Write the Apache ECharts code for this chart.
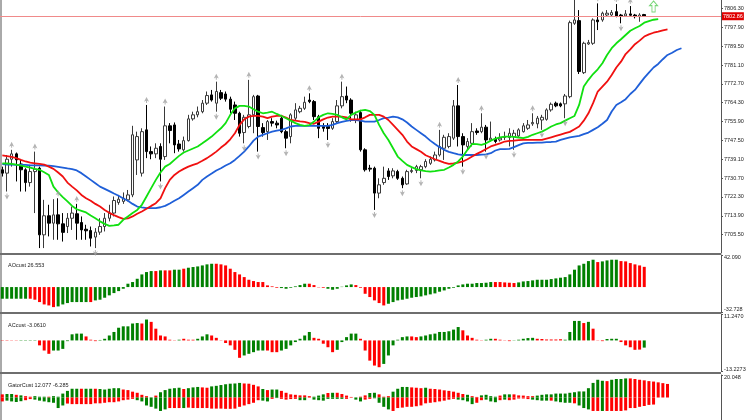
<!DOCTYPE html>
<html>
<head>
<meta charset="utf-8">
<script src="https://cdn.jsdelivr.net/npm/echarts@6/dist/echarts.min.js"></script>
<style>
html, body { margin: 0; padding: 0; background: #fff; }
#DataChart { width: 752px; height: 420px; }
</style>
</head>
<body>
<div id="DataChart"></div>
<script>
// candles (bar 0 = leftmost visible bar)
var opens = [7734.4,7732.9,7739.1,7741.5,7737.0,7734.4,7728.7,7733.6,7735.1,7705.4,
  7713.9,7710.6,7714.3,7710.3,7709.1,7712.8,7714.8,7710.9,7707.9,7707.3,
  7704.4,7706.6,7709.1,7712.8,7715.1,7719.8,7720.3,7721.0,7723.2,7738.8,
  7732.9,7752.2,7742.5,7741.5,7744.8,7740.3,7754.0,7754.4,7745.9,7743.3,
  7747.4,7757.1,7758.9,7760.3,7764.1,7767.8,7764.1,7768.8,7768.2,7765.9,
  7763.3,7759.6,7751.0,7753.7,7758.9,7767.3,7753.2,7751.4,7755.9,7755.2,
  7757.4,7751.4,7749.2,7757.4,7760.3,7761.8,7765.5,7764.8,7758.1,7753.7,
  7753.7,7752.9,7755.9,7762.9,7767.3,7765.5,7756.6,7759.9,7743.3,7735.1,
  7735.1,7724.0,7728.7,7733.9,7731.7,7733.6,7730.6,7728.1,7733.6,7734.1,
  7734.4,7735.8,7737.3,7738.8,7741.0,7744.0,7744.8,7748.5,7762.9,7749.2,
  7744.8,7746.2,7751.7,7751.4,7753.4,7747.7,7748.0,7747.7,7748.8,7748.8,
  7749.2,7749.5,7751.4,7752.9,7754.9,7754.9,7756.6,7756.9,7761.1,7764.1,
  7763.8,7763.8,7767.0,7799.7,7800.9,7777.7,7790.5,7790.8,7801.2,7801.2,
  7803.4,7803.4,7804.9,7803.4,7803.0,7803.9,7803.4,7802.7,7803.6];
var closes = [7732.9,7739.1,7741.5,7738.8,7734.4,7728.7,7733.6,7734.7,7705.4,7713.9,
  7710.6,7714.3,7710.3,7706.5,7712.8,7715.1,7710.6,7707.6,7707.2,7703.9,
  7706.6,7709.1,7712.8,7715.1,7720.7,7721.3,7721.7,7723.2,7750.0,7749.2,
  7751.4,7742.5,7741.5,7744.0,7739.1,7754.0,7751.9,7745.5,7743.7,7747.4,
  7757.1,7758.9,7760.3,7764.1,7767.5,7765.5,7769.3,7766.3,7765.9,7761.4,
  7759.6,7750.7,7757.8,7758.9,7767.0,7753.7,7751.0,7755.9,7755.2,7754.4,
  7751.4,7748.5,7758.9,7761.1,7761.8,7764.5,7764.8,7758.1,7752.9,7752.9,
  7752.8,7755.9,7762.9,7767.0,7765.5,7759.6,7758.9,7743.3,7734.4,7734.7,
  7724.0,7727.7,7730.6,7731.4,7733.9,7730.6,7727.7,7733.6,7734.1,7735.8,
  7735.8,7738.1,7739.1,7741.0,7744.8,7748.9,7749.2,7762.9,7749.2,7745.5,
  7747.0,7751.4,7751.0,7753.4,7747.7,7748.5,7747.0,7748.5,7749.2,7750.7,
  7750.7,7752.2,7754.0,7754.4,7755.5,7757.4,7757.8,7761.1,7763.6,7762.9,
  7762.9,7767.3,7800.0,7801.2,7778.2,7790.8,7791.1,7801.2,7800.4,7804.2,
  7804.2,7804.5,7803.0,7803.0,7803.9,7803.3,7802.7,7803.4,7802.86];
var lows = [7731.4,7724.7,7735.8,7729.2,7724.7,7724.7,7726.9,7715.1,7699.5,7699.5,
  7704.7,7703.2,7703.2,7702.4,7706.2,7707.6,7703.2,7703.2,7703.2,7700.2,
  7699.5,7705.4,7706.9,7711.4,7713.6,7718.8,7719.2,7720.3,7722.2,7732.1,
  7731.4,7739.6,7739.1,7739.6,7729.2,7738.8,7746.2,7741.8,7742.5,7742.5,
  7747.0,7756.3,7757.8,7759.6,7763.3,7764.8,7760.3,7765.5,7764.8,7759.6,
  7756.6,7749.2,7746.2,7752.9,7750.7,7742.5,7749.2,7747.7,7753.7,7752.9,
  7750.7,7744.0,7746.2,7756.6,7759.6,7761.1,7764.1,7756.6,7748.5,7751.4,
  7747.7,7752.2,7755.2,7761.8,7764.1,7755.9,7755.2,7742.5,7733.6,7733.6,
  7716.5,7721.7,7727.7,7729.9,7730.6,7729.9,7726.2,7727.7,7732.9,7732.9,
  7730.6,7735.1,7736.6,7738.1,7740.3,7738.8,7744.0,7747.7,7744.8,7735.8,
  7743.3,7744.8,7750.0,7750.7,7742.5,7747.0,7746.2,7747.0,7747.7,7744.8,
  7743.3,7748.9,7751.0,7752.2,7754.0,7752.9,7752.2,7756.3,7760.3,7762.3,
  7762.3,7757.4,7766.3,7799.0,7777.1,7777.1,7790.1,7790.1,7796.7,7800.4,
  7803.0,7802.7,7802.4,7799.7,7802.7,7802.7,7801.9,7800.4,7802.7];
var highs = [7735.8,7741.0,7743.3,7742.1,7738.8,7735.1,7736.6,7742.5,7735.8,7721.0,
  7718.8,7721.3,7721.7,7715.1,7715.1,7718.0,7719.2,7713.6,7709.9,7709.1,
  7708.4,7712.8,7715.1,7718.8,7722.5,7723.2,7724.3,7725.4,7754.0,7751.4,
  7752.9,7763.3,7744.8,7746.2,7746.2,7762.6,7755.2,7755.5,7747.7,7749.2,
  7758.9,7760.3,7762.6,7765.5,7769.3,7770.0,7773.7,7770.0,7769.3,7767.0,
  7764.8,7760.3,7758.9,7774.5,7767.8,7767.8,7755.2,7756.6,7757.4,7756.3,
  7758.9,7752.2,7759.6,7764.1,7762.9,7767.0,7768.5,7765.5,7758.9,7755.2,
  7755.2,7757.4,7765.5,7773.7,7771.5,7766.3,7760.3,7761.1,7744.0,7736.6,
  7735.8,7730.6,7735.8,7735.1,7735.1,7734.4,7731.4,7734.4,7735.1,7736.6,
  7736.6,7739.1,7740.3,7742.5,7752.2,7750.0,7750.7,7765.5,7772.2,7750.7,
  7748.5,7755.2,7752.9,7759.6,7754.4,7755.9,7749.2,7750.7,7751.4,7752.9,
  7752.2,7752.9,7755.2,7756.6,7759.6,7758.4,7758.9,7761.8,7764.4,7764.8,
  7764.4,7768.2,7800.9,7810.1,7805.6,7791.5,7792.3,7801.9,7808.6,7804.9,
  7805.6,7805.6,7808.3,7803.9,7805.6,7807.4,7803.9,7804.2,7803.9];

// alligator lines (already shifted forward as drawn)
var jaw = [7736.9,7736.7,7736.7,7736.6,7736.6,7736.6,7736.4,7736.4,7736.4,7736.3,
  7736.3,7736.0,7735.7,7735.4,7735.0,7734.7,7734.1,7732.9,7731.4,7729.9,
  7728.4,7726.9,7725.9,7724.9,7723.8,7722.8,7721.6,7720.6,7719.2,7718.0,
  7717.6,7717.3,7717.3,7717.3,7717.7,7718.3,7719.4,7720.6,7721.7,7723.2,
  7724.7,7726.2,7727.7,7729.9,7731.4,7732.7,7734.1,7735.1,7736.3,7737.3,
  7738.8,7740.6,7742.5,7744.8,7747.4,7749.2,7750.0,7750.7,7751.4,7751.9,
  7752.2,7752.9,7753.7,7754.0,7754.0,7754.0,7754.0,7754.0,7754.0,7754.0,
  7754.0,7754.4,7755.2,7755.8,7756.2,7756.5,7756.5,7756.3,7755.9,7755.9,
  7755.9,7756.6,7757.4,7757.7,7758.1,7757.8,7756.9,7755.5,7753.7,7752.2,
  7750.7,7749.2,7747.4,7745.9,7744.5,7743.3,7742.4,7741.8,7741.3,7741.0,
  7741.0,7741.0,7741.0,7741.2,7741.3,7741.8,7743.0,7743.6,7743.6,7743.7,
  7744.5,7745.4,7746.2,7746.4,7746.4,7746.5,7746.5,7746.7,7746.8,7747.0,
  7747.7,7748.3,7748.9,7749.2,7749.5,7750.3,7751.0,7752.2,7753.4,7754.9,
  7756.6,7760.4,7763.3,7764.5,7765.9,7768.2,7770.0,7772.7,7775.4,7777.7,
  7780.0,7781.6,7783.7,7785.6,7786.6,7787.8,7788.6];
var teeth = [7740.8,7740.5,7740.2,7739.6,7738.8,7738.1,7737.6,7737.3,7737.0,7736.7,
  7735.8,7734.8,7733.2,7731.4,7728.7,7726.9,7725.2,7723.2,7721.7,7720.6,
  7719.2,7718.0,7716.5,7715.2,7714.2,7713.3,7712.5,7712.7,7713.6,7714.8,
  7715.8,7717.0,7718.3,7719.5,7721.7,7726.2,7729.9,7732.1,7733.6,7734.8,
  7735.8,7736.6,7737.3,7738.4,7739.6,7741.0,7742.5,7744.3,7745.9,7748.0,
  7750.7,7754.4,7756.9,7758.1,7758.4,7758.4,7758.1,7757.4,7758.1,7758.4,
  7758.4,7757.7,7756.6,7756.3,7756.0,7755.8,7755.2,7754.9,7755.9,7756.9,
  7757.7,7758.1,7758.1,7758.1,7757.8,7756.9,7756.9,7756.9,7757.8,7758.9,
  7758.9,7758.9,7758.1,7756.6,7754.4,7752.2,7750.0,7747.0,7744.8,7743.6,
  7742.4,7740.9,7740.0,7739.1,7738.4,7737.6,7737.0,7737.2,7737.6,7738.1,
  7739.1,7740.3,7741.5,7742.5,7743.7,7744.8,7745.5,7746.2,7747.0,7747.3,
  7747.4,7747.6,7747.7,7747.7,7747.7,7747.7,7747.7,7748.3,7748.9,7749.5,
  7750.1,7750.7,7751.3,7752.5,7753.7,7756.3,7759.6,7764.1,7769.3,7771.5,
  7773.7,7776.7,7780.0,7782.6,7786.0,7788.1,7790.4,7792.0,7793.8,7794.8,
  7795.5,7796.0,7796.6,7797.0];
var lips = [7737.3,7737.2,7737.0,7736.7,7736.3,7735.8,7735.4,7734.8,7734.4,7733.3,
  7732.1,7726.9,7724.3,7722.2,7720.3,7718.3,7716.8,7716.1,7715.4,7714.0,
  7712.8,7711.4,7710.3,7709.4,7709.6,7709.9,7712.1,7713.6,7715.1,7716.5,
  7718.8,7722.5,7726.2,7729.9,7733.2,7735.8,7737.0,7738.8,7740.6,7742.1,
  7743.0,7743.9,7744.8,7746.2,7747.7,7749.2,7751.1,7752.9,7755.2,7758.9,
  7761.8,7762.9,7762.9,7762.6,7761.4,7760.3,7759.6,7759.9,7760.3,7759.3,
  7758.4,7757.4,7756.3,7755.2,7754.4,7754.0,7754.3,7755.9,7757.8,7758.9,
  7759.6,7759.3,7758.9,7757.8,7756.9,7758.9,7759.9,7760.8,7761.1,7760.6,
  7758.9,7754.4,7750.7,7747.7,7744.0,7740.3,7738.4,7736.6,7735.6,7734.7,
  7734.1,7733.8,7733.6,7733.8,7734.1,7734.4,7735.4,7736.6,7738.1,7740.3,
  7743.3,7745.9,7745.8,7745.5,7746.2,7747.4,7748.3,7748.9,7749.2,7749.2,
  7749.1,7748.8,7748.5,7749.1,7750.0,7750.7,7751.4,7752.5,7753.7,7754.6,
  7755.2,7756.3,7757.4,7758.4,7763.3,7771.5,7774.5,7777.1,7779.2,7781.9,
  7785.6,7788.6,7790.8,7792.6,7794.5,7796.4,7797.5,7798.5,7800.0,7800.7,
  7801.3,7801.6];

// fractal marks (bar numbers) and the signal arrow
var upFractals = [2, 7, 12, 16, 31, 35, 46, 53, 66, 73, 94, 98, 103, 114, 128, 132, 135];
var downFractals = [1, 20, 34, 46, 52, 55, 61, 70, 80, 86, 90, 99, 104, 110, 116, 121, 133];
var signalBar = 140;
var signalPrice = 7807.2;

var priceTicks = [7705.5, 7713.9, 7722.3, 7730.7, 7739.1, 7747.5, 7755.9, 7764.3, 7772.7, 7781.1, 7789.5, 7797.9, 7806.3];

// AOcust
var aoValues = [-15.3,-15.3,-15.3,-15.3,-15.3,-15.3,-15.3,-16.6,-19.7,-22.8,
  -24.1,-26.3,-25.4,-22.8,-21.0,-19.7,-19.7,-19.7,-19.7,-19.7,
  -17.5,-16.6,-14.0,-10.9,-7.9,-5.3,-2.2,4.4,6.6,10.9,
  16.6,19.7,21.0,21.0,21.9,21.9,21.9,22.8,22.8,24.1,
  25.4,26.3,27.1,28.4,29.8,30.6,30.6,29.8,28.4,24.1,
  19.7,16.6,13.1,9.6,7.9,6.6,6.6,2.2,0.9,-0.9,
  -1.3,-2.2,-0.9,0.9,2.6,4.4,4.4,2.6,-0.4,-0.9,
  -2.2,-3.5,-2.2,0.4,2.2,3.5,2.6,-0.9,-8.8,-13.1,
  -17.5,-21.0,-24.1,-21.9,-19.7,-17.5,-16.6,-15.3,-14.0,-13.1,
  -12.3,-10.9,-9.6,-8.3,-6.1,-4.4,-2.2,-0.9,2.2,3.5,
  4.4,4.4,5.3,5.3,5.7,6.6,6.6,6.6,6.1,5.7,
  5.3,6.1,7.4,7.9,8.8,9.6,9.6,9.6,10.5,11.4,
  12.3,13.1,16.6,22.8,28.4,30.6,34.1,35.9,32.8,33.7,
  35.0,35.9,35.9,34.1,33.7,31.5,29.8,28.4,26.553];
var aoDir = 'gggggg rrrrrr ggggggg r ggggggggggggg r g rr gg r gggggg rrrrrrrrrrrrrr gggggg rrrr gggggg rrrrrrr ggggggggggggggggggggggg rrrrr ggggggggggggggggg r gggg rrrrrr';

// ACcust
var acValues = [-0.14,-0.14,-0.1,-0.1,0.14,0.14,0.14,0.14,-2.1,-4.3,
  -5.7,-4.3,-4.3,-3.6,-0.3,2.6,2.9,2.9,1.7,0.3,
  -0.3,0.2,0.7,2.1,3.6,5.4,6.0,6.0,7.2,7.4,
  7.2,8.9,7.9,5.0,2.1,1.7,0.3,0.1,0.3,0.7,
  0.3,0.3,0.7,1.7,2.6,2.1,1.1,-0.1,-1.1,-2.1,
  -4.0,-7.4,-6.4,-5.7,-5.0,-4.3,-4.3,-4.3,-5.0,-5.0,
  -4.3,-3.6,-2.1,-0.7,0.7,2.1,3.6,1.1,0.7,-1.4,
  -2.9,-5.0,-4.0,-0.7,1.4,2.9,2.9,0.7,-4.3,-8.6,
  -10.7,-11.4,-10.0,-6.4,-2.1,0.3,1.4,1.7,1.7,1.4,
  1.7,2.1,2.6,2.9,3.6,3.6,3.9,4.6,5.7,4.3,
  2.1,1.1,0.3,-0.1,0.3,0.7,0.7,0.3,-0.1,-0.3,
  0.1,0.3,0.7,1.0,1.1,0.7,0.6,0.4,0.4,0.4,
  0.5,0.3,3.6,8.3,8.3,7.4,7.9,5.0,-0.1,-0.3,
  0.6,0.7,0.7,-0.7,-2.1,-2.9,-4.0,-3.9,-3.061];
var acDir = 'rrrr gggg rrr ggggggg rrr ggggggggg r g rrrrrr g rrr ggg rrrrrrr ggggg rrr ggggggg rrrrr ggggg rrrrr gggggg rr ggggggggg rrrrr gg rrrr ggggg rrrrrr gggg r g rrr ggg rrrrr g';

// GatorCust, upper and lower histograms
var gatorUp = [2.8,3.1,3.1,2.4,1.9,1.2,0.7,1.2,0.7,0.7,
  0.7,1.2,0.7,3.5,5.9,7.8,7.8,7.8,7.8,7.8,
  7.8,7.6,7.1,7.8,8.3,8.3,7.1,6.6,5.2,4.2,
  2.4,1.2,0.1,1.7,4.7,6.6,7.8,8.3,8.7,7.6,
  8.3,9.0,9.4,9.0,8.7,9.9,10.4,11.1,11.8,12.3,
  12.5,13.0,12.5,12.3,11.3,9.9,7.6,6.6,7.1,7.1,
  5.9,4.2,2.8,2.4,1.9,1.9,1.2,0.7,1.7,2.8,
  4.0,4.2,4.2,3.1,1.7,0.5,0.1,0.7,1.9,4.0,
  4.2,2.8,0.7,1.2,5.2,7.8,9.4,9.4,9.0,8.7,
  8.3,8.7,7.8,7.6,7.1,6.4,5.9,5.2,4.2,3.1,
  2.4,1.2,0.5,1.9,2.4,1.2,0.7,1.7,2.8,2.8,
  2.8,1.9,1.7,1.2,1.2,1.7,2.4,2.8,2.8,3.5,
  3.5,3.5,4.2,4.7,5.4,5.4,8.3,13.0,15.8,14.9,
  14.6,15.8,16.5,16.5,17.0,17.0,16.5,15.8,15.3,14.6,
  14.2,13.5,12.8,12.077];
var gatorUpDir = 'r gg r g rr ggg r gggggg r gg r ggggg rrrrrr g r ggggg r ggg rr ggggggg rrrr g r gg rrrrrrr ggg r g rrrr g rr gg rrr gggg rrr g rrrrrrrr g rr gggg r gg rrrrr ggggggggggggggg r gggg rrrrrrrrr';
var gatorDown = [-3.5,-2.8,-3.5,-4.0,-3.3,-2.4,-1.4,-1.9,-2.8,-3.5,
  -4.2,-4.7,-9.4,-7.1,-5.4,-5.9,-5.9,-5.9,-5.9,-5.9,
  -5.2,-5.2,-4.7,-4.2,-4.2,-3.5,-2.4,-1.9,-1.2,-2.4,
  -3.5,-7.1,-8.3,-9.9,-12.0,-10.6,-9.4,-9.4,-9.4,-9.4,
  -9.0,-9.4,-9.4,-9.4,-9.4,-9.9,-9.9,-9.9,-10.1,-10.1,
  -9.9,-8.3,-7.1,-5.9,-4.7,-2.4,-2.8,-3.5,-1.2,-0.5,
  -1.2,-1.9,-1.4,-1.2,-2.4,-2.4,-0.1,-1.9,-2.4,-2.8,
  -1.2,-1.2,-1.2,-1.2,-1.2,-0.1,-1.9,-3.5,-1.9,-1.2,
  -0.7,-4.7,-8.3,-10.6,-12.0,-9.4,-9.0,-8.3,-8.3,-7.8,
  -7.1,-5.2,-4.7,-4.2,-3.5,-2.8,-1.9,-1.2,-1.9,-2.4,
  -3.5,-5.9,-4.7,-2.4,-1.9,-3.5,-4.2,-2.4,-1.9,-2.4,
  -1.9,-0.9,-0.9,-1.4,-1.9,-2.4,-2.8,-2.8,-2.8,-3.5,
  -4.2,-4.7,-4.7,-5.2,-7.1,-9.4,-10.6,-12.0,-12.0,-12.0,
  -12.0,-12.0,-12.0,-12.0,-11.5,-9.4,-9.4,-8.3,-7.6,-6.6,-6.285];
var gatorDownDir = 'r gggg rr ggggggg rrrrrrrrrrrrrrr ggggggg rrr g rrrrrrrrrrrrrrrr gg r g rrrr gg r ggggggg rr gg rr gggg rrrrrrrrrrrrrr gggg rr ggg r g rrrrr gggg r gggg r ggg rr g rrrrrrrrrrr';

var slotCount = 155;

// ---------------------------------------------------------------
var myChart = echarts.init(document.getElementById('DataChart'));

var font = 'Liberation Sans, Arial, sans-serif';
var slots = [];
for (var i = 0; i < slotCount; i++) slots.push(i);

var candles = opens.map(function (o, i) { return [o, closes[i], lows[i], highs[i]]; });
var lastPrice = closes[closes.length - 1];

function dirColor(dir) {
    dir = dir.replace(/ /g, '');
    return function (p) { return dir.charAt(p.dataIndex) === 'g' ? '#008000' : '#ff0000'; };
}

// labels of the small panes sit just inside their top / bottom edge
function edgeLabels(digits) {
    return {
        fontSize: 5.5, fontFamily: font, color: '#222', margin: 3,
        formatter: function (v) { return (v > 0 ? '{t|' : '{b|') + v.toFixed(digits) + '}'; },
        rich: {
            t: { padding: [4, 0, 0, 0], fontSize: 5.5, fontFamily: font, color: '#222' },
            b: { padding: [0, 0, 5, 0], fontSize: 5.5, fontFamily: font, color: '#222' }
        }
    };
}

function paneAxis(idx, min, max, digits, shown) {
    var lab = edgeLabels(digits);
    lab.customValues = shown;
    return {
        type: 'value', gridIndex: idx, position: 'right', min: min, max: max,
        splitLine: { show: false },
        axisLine: { show: true, lineStyle: { color: '#555', width: 1 } },
        axisTick: { show: true, customValues: shown, length: 2, lineStyle: { color: '#555' } },
        axisLabel: lab
    };
}

var arrowUp = 'path://M5,0 L10,8 L6,6.5 L6,10 L4,10 L4,6.5 L0,8 Z';
var bigArrow = 'path://M5,0 L10,5 L7,5 L7,12 L3,12 L3,5 L0,5 Z';

var option = {
    animation: false,
    backgroundColor: '#fff',
    title: [
        { text: 'AOcust 26.553', left: 3, top: 257, textStyle: { fontSize: 5.5, fontWeight: 'normal', fontFamily: font, color: '#222' } },
        { text: 'ACcust -3.0610', left: 3, top: 317, textStyle: { fontSize: 5.5, fontWeight: 'normal', fontFamily: font, color: '#222' } },
        { text: 'GatorCust 12.077 -6.285', left: 3, top: 377, textStyle: { fontSize: 5.5, fontWeight: 'normal', fontFamily: font, color: '#222' } }
    ],
    grid: [
        { left: 0, right: 31, top: 0, height: 253 },
        { left: 0, right: 31, top: 255, height: 57 },
        { left: 0, right: 31, top: 314, height: 57.5 },
        { left: 0, right: 31, top: 375, height: 56.6 }
    ],
    xAxis: [0, 1, 2, 3].map(function (k) {
        return { type: 'category', gridIndex: k, data: slots, show: false, boundaryGap: true };
    }),
    yAxis: [
        {
            type: 'value', gridIndex: 0, position: 'right', min: 7697.3, max: 7810.1,
            splitLine: { show: false },
            axisLine: { show: true, lineStyle: { color: '#555', width: 1 } },
            axisTick: { show: true, customValues: priceTicks, length: 2, lineStyle: { color: '#555' } },
            axisLabel: {
                customValues: priceTicks, fontSize: 5.5, fontFamily: font, color: '#222', margin: 3,
                formatter: function (v) { return v.toFixed(2); }
            }
        },
        paneAxis(1, -32.728, 42.09, 3, [42.09, -32.728]),
        paneAxis(2, -13.2273, 11.247, 4, [11.247, -13.2273]),
        paneAxis(3, -20.048, 20.048, 3, [20.048])
    ],
    graphic: [
        { type: 'line', shape: { x1: 1, y1: 0, x2: 1, y2: 420 }, style: { stroke: '#555', lineWidth: 1 } },
        { type: 'line', shape: { x1: 0, y1: 254, x2: 721, y2: 254 }, style: { stroke: '#6e6e6e', lineWidth: 2 } },
        { type: 'line', shape: { x1: 0, y1: 313, x2: 721, y2: 313 }, style: { stroke: '#6e6e6e', lineWidth: 2 } },
        { type: 'line', shape: { x1: 0, y1: 373, x2: 721, y2: 373 }, style: { stroke: '#6e6e6e', lineWidth: 2 } }
    ],
    series: [
        {
            name: 'price', type: 'candlestick', xAxisIndex: 0, yAxisIndex: 0,
            data: candles, barWidth: 3, z: 2,
            itemStyle: { color: '#fff', color0: '#000', borderColor: '#3a3a3a', borderColor0: '#000', borderWidth: 1 },
            markLine: {
                silent: true, symbol: 'none',
                data: [{ yAxis: lastPrice }],
                lineStyle: { color: '#f08a8a', width: 1, type: 'solid' },
                label: {
                    position: 'end', distance: 1, formatter: lastPrice.toFixed(2),
                    backgroundColor: '#e00000', color: '#fff', fontSize: 5.5, fontFamily: font, padding: [1, 1]
                }
            }
        },
        { name: 'jaw', type: 'line', xAxisIndex: 0, yAxisIndex: 0, data: jaw, symbol: 'none', z: 3,
          lineStyle: { color: '#1f5fd8', width: 1.8 } },
        { name: 'teeth', type: 'line', xAxisIndex: 0, yAxisIndex: 0, data: teeth, symbol: 'none', z: 3,
          lineStyle: { color: '#f01010', width: 1.8 } },
        { name: 'lips', type: 'line', xAxisIndex: 0, yAxisIndex: 0, data: lips, symbol: 'none', z: 3,
          lineStyle: { color: '#10e010', width: 1.8 } },
        { name: 'fractal up', type: 'scatter', xAxisIndex: 0, yAxisIndex: 0, z: 4,
          data: upFractals.map(function (i) { return [i, highs[i]]; }),
          symbol: arrowUp, symbolSize: [5, 6], symbolOffset: [0, -5], itemStyle: { color: '#a0a0a0' } },
        { name: 'fractal down', type: 'scatter', xAxisIndex: 0, yAxisIndex: 0, z: 4,
          data: downFractals.map(function (i) { return [i, lows[i]]; }),
          symbol: arrowUp, symbolRotate: 180, symbolSize: [5, 6], symbolOffset: [0, 5], itemStyle: { color: '#a0a0a0' } },
        { name: 'signal', type: 'scatter', xAxisIndex: 0, yAxisIndex: 0, z: 4,
          data: [[signalBar, signalPrice]],
          symbol: bigArrow, symbolSize: [8, 11], itemStyle: { color: '#fff', borderColor: '#55cc55', borderWidth: 1 } },

        { name: 'AOcust', type: 'bar', xAxisIndex: 1, yAxisIndex: 1, data: aoValues, barWidth: 3,
          itemStyle: { color: dirColor(aoDir) } },
        { name: 'ACcust', type: 'bar', xAxisIndex: 2, yAxisIndex: 2, data: acValues, barWidth: 3,
          itemStyle: { color: dirColor(acDir) } },
        { name: 'Gator up', type: 'bar', xAxisIndex: 3, yAxisIndex: 3, data: gatorUp, barWidth: 3, barGap: '-100%',
          itemStyle: { color: dirColor(gatorUpDir) } },
        { name: 'Gator down', type: 'bar', xAxisIndex: 3, yAxisIndex: 3, data: gatorDown, barWidth: 3, barGap: '-100%',
          itemStyle: { color: dirColor(gatorDownDir) } }
    ]
};

myChart.setOption(option);
</script>
</body>
</html>
